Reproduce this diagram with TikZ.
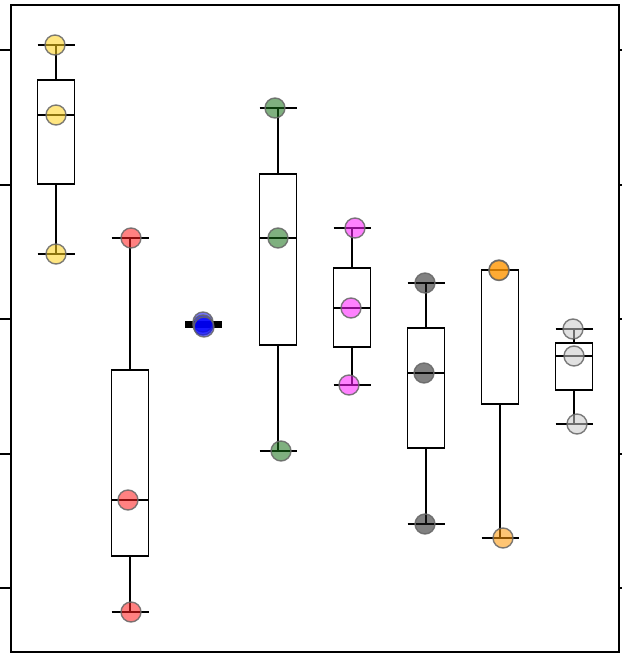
\documentclass[tikz,border=0pt]{standalone}
\begin{document}
\begin{tikzpicture}[x=1pt,y=-1pt,
  wh/.style={line width=1.6pt,black},
  bx/.style={line width=1.6pt,black},
  md/.style={line width=1.2pt,black},
  pt/.style={circle,minimum size=20pt,inner sep=0pt,draw=black!60,line width=1.4pt,fill opacity=0.55,draw opacity=0.85},
  frm/.style={line width=1.4pt,black}]
\useasboundingbox (0,0) rectangle (622,653);
\definecolor{cy}{HTML}{FFD21A}
\definecolor{cr}{HTML}{FF1A1A}
\definecolor{cb}{HTML}{0000FF}
\definecolor{cg}{HTML}{167016}
\definecolor{cm}{HTML}{FF1AFF}
\definecolor{ck}{HTML}{1A1A1A}
\definecolor{co}{HTML}{FF9500}
\definecolor{cl}{HTML}{C8C8C8}
\newcommand{\bxp}[6]{%
  \draw[wh] (#1,#2) -- (#1,#3);
  \draw[wh] (#1,#5) -- (#1,#6);
  \draw[wh] (#1-18.5,#2) -- (#1+18.5,#2);
  \draw[wh] (#1-18.5,#6) -- (#1+18.5,#6);
  \draw[bx] (#1-18.5,#3) rectangle (#1+18.5,#5);
  \draw[md] (#1-18.5,#4) -- (#1+18.5,#4);
}
% frame and ticks
\draw[frm] (11,5) rectangle (619,652);
\foreach \yy in {50,185,319,454,588}{
  \draw[frm] (0,\yy) -- (11,\yy);
  \draw[frm] (619,\yy) -- (622,\yy);
}
% box plots
\bxp{56}{45}{80}{115}{184}{254}
\bxp{130}{238}{370}{500}{556}{612}
\bxp{278}{108}{174}{238}{345}{451}
\bxp{352}{228}{268}{308}{347}{385}
\bxp{426}{283}{328}{373}{448}{524}
\bxp{500}{270}{270}{270}{404}{538}
\bxp{574}{329}{343}{356}{390}{424}
\fill[black] (185,321) rectangle (222,328);
% points
\node[pt,fill=cy] (y1) at (55,45) {};
\node[pt,fill=cy] (y2) at (56,115) {};
\node[pt,fill=cy] (y3) at (56,254) {};
\node[pt,fill=cr] (r1) at (131,238) {};
\node[pt,fill=cr] (r2) at (128,500) {};
\node[pt,fill=cr] (r3) at (131,612) {};
\node[pt,fill=cb] (b1) at (203,322) {};
\node[pt,fill=cb] (b2) at (203,325) {};
\node[pt,fill=cb] (b3) at (204,327) {};
\node[pt,fill=cg] (g1) at (275,108) {};
\node[pt,fill=cg] (g2) at (278,238) {};
\node[pt,fill=cg] (g3) at (281,451) {};
\node[pt,fill=cm] (m1) at (355,228) {};
\node[pt,fill=cm] (m2) at (351,308) {};
\node[pt,fill=cm] (m3) at (349,385) {};
\node[pt,fill=ck] (k1) at (425,283) {};
\node[pt,fill=ck] (k2) at (424,373) {};
\node[pt,fill=ck] (k3) at (425,524) {};
\node[pt,fill=co] (o1) at (499,270) {};
\node[pt,fill=co] (o3) at (499,270.5) {};
\node[pt,fill=co] (o2) at (503,538) {};
\node[pt,fill=cl] (l1) at (573,329) {};
\node[pt,fill=cl] (l2) at (574,356) {};
\node[pt,fill=cl] (l3) at (577,424) {};
\end{tikzpicture}
\end{document}
